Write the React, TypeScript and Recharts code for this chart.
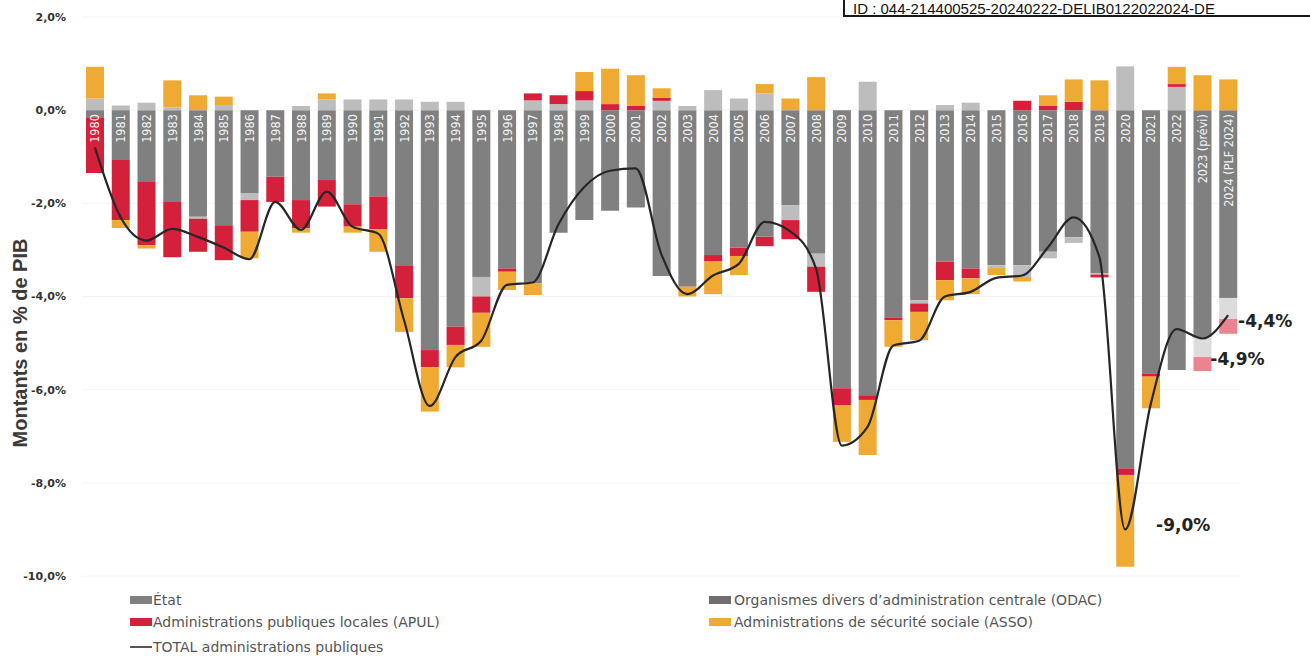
import React from "react";
import {
  ComposedChart,
  Bar,
  Line,
  XAxis,
  YAxis,
  CartesianGrid,
  Cell,
  LabelList,
} from "recharts";

// Soldes des administrations publiques, en % du PIB
const years = [
  "1980", "1981", "1982", "1983", "1984", "1985", "1986", "1987", "1988", "1989",
  "1990", "1991", "1992", "1993", "1994", "1995", "1996", "1997", "1998", "1999",
  "2000", "2001", "2002", "2003", "2004", "2005", "2006", "2007", "2008", "2009",
  "2010", "2011", "2012", "2013", "2014", "2015", "2016", "2017", "2018", "2019",
  "2020", "2021", "2022", "2023 (prévi)", "2024 (PLF 2024)",
];

const etat = [
  -0.15, -1.07, -1.54, -1.97, -2.29, -2.47, -1.79, -1.43, -1.93, -1.5,
  -2.02, -1.85, -3.33, -5.15, -4.65, -3.58, -3.4, -3.72, -2.63, -2.36,
  -2.16, -2.09, -3.56, -3.79, -3.11, -2.95, -2.72, -2.04, -3.08, -5.97,
  -6.12, -4.45, -4.08, -3.25, -3.4, -3.33, -3.33, -3.04, -2.73, -3.5,
  -7.69, -5.65, -5.58, -4.87, -4.03,
];

const odac = [
  0.25, 0.1, 0.16, 0.06, -0.04, 0.11, -0.14, 0, 0.09, 0.23,
  0.23, 0.23, 0.23, 0.18, 0.18, -0.42, 0, 0.21, 0.13, 0.21,
  0, 0, 0.2, 0.09, 0.43, 0.25, 0.36, -0.32, -0.28, 0,
  0.61, 0, -0.07, 0.11, 0.16, -0.06, -0.25, -0.14, -0.12, -0.03,
  0.94, 0, 0.5, -0.43, -0.45,
];

const apul = [
  -1.2, -1.29, -1.36, -1.19, -0.71, -0.75, -0.68, -0.54, -0.61, -0.57,
  -0.48, -0.71, -0.71, -0.37, -0.39, -0.35, -0.07, 0.15, 0.19, 0.2,
  0.13, 0.09, 0.07, 0, -0.14, -0.18, -0.2, -0.41, -0.54, -0.36,
  -0.1, -0.06, -0.18, -0.4, -0.21, 0, 0.2, 0.09, 0.18, -0.06,
  -0.14, -0.07, 0.06, -0.3, -0.32,
];

const asso = [
  0.68, -0.17, -0.07, 0.58, 0.32, 0.18, -0.57, 0, -0.09, 0.13,
  -0.13, -0.48, -0.72, -0.95, -0.48, -0.73, -0.39, -0.25, 0, 0.41,
  0.76, 0.66, 0.2, -0.21, -0.7, -0.41, 0.2, 0.25, 0.71, -0.79,
  -1.18, -0.57, -0.61, -0.43, -0.34, -0.15, -0.1, 0.23, 0.48, 0.64,
  -1.97, -0.68, 0.37, 0.75, 0.66,
];

const total = [
  -0.8, -2.3, -2.8, -2.55, -2.72, -2.95, -3.2, -1.97, -2.57, -1.75,
  -2.5, -2.65, -4.5, -6.35, -5.3, -4.95, -3.75, -3.7, -2.45, -1.65,
  -1.3, -1.25, -3.1, -3.95, -3.55, -3.3, -2.4, -2.6, -3.4, -7.2,
  -6.8, -5.05, -4.95, -4.0, -3.9, -3.6, -3.55, -2.95, -2.3, -3.15,
  -9.0, -6.3, -4.7, -4.9, -4.4,
];

const forecastYears = ["2023 (prévi)", "2024 (PLF 2024)"];
const calledOut = ["2020", "2023 (prévi)", "2024 (PLF 2024)"];
const yTicks = [-10, -8, -6, -4, -2, 0, 2];

const data = years.map((year, i) => ({
  year,
  etat: etat[i],
  odac: odac[i],
  apul: apul[i],
  asso: asso[i],
  total: total[i],
}));

const C = {
  etat: "#808080",
  odac: "#bdbdbd",
  odacPrev: "#dcdcdc",
  apul: "#d4203b",
  apulPrev: "#ea8590",
  asso: "#eeaa33",
  line: "#262626",
};

const pct = (v: number) => `${v.toFixed(1).replace(".", ",")}%`;

// label offsets for the annotated totals (relative to the line point)
const calloutOffset: Record<string, [number, number]> = {
  "2020": [31, 2],
  "2023 (prévi)": [8, 27],
  "2024 (PLF 2024)": [10, 12],
};

const YearTag = (props: any) => {
  const { x, y, width, height, value } = props;
  const top = Math.min(y, y + height);
  const px = x + width / 2 + 4.5;
  const py = top + 4;
  return (
    <text
      x={px}
      y={py}
      transform={`rotate(-90 ${px} ${py})`}
      textAnchor="end"
      fontSize={12.5}
      fontFamily="'DejaVu Sans Condensed', 'Liberation Sans Narrow', sans-serif"
      fill="#f4f4f4"
    >
      {value}
    </text>
  );
};

const TotalCallout = (props: any) => {
  const { x, y, value, index } = props;
  const year = years[index];
  if (!calledOut.includes(year)) return null;
  const [dx, dy] = calloutOffset[year];
  return (
    <text
      x={x + dx}
      y={y + dy}
      fontSize={17}
      fontWeight={700}
      fontFamily="'DejaVu Sans', sans-serif"
      fill="#222"
    >
      {pct(value)}
    </text>
  );
};

const AxisTitle = () => (
  <text
    x={27}
    y={343}
    transform="rotate(-90 27 343)"
    textAnchor="middle"
    fontSize={20}
    fontWeight={700}
    fontFamily="'Liberation Sans', Arial, sans-serif"
    fill="#3a3a3a"
  >
    Montants en % de PIB
  </text>
);

const legendText: React.CSSProperties = {
  position: "absolute",
  fontSize: 14,
  color: "#555",
  fontFamily: "'DejaVu Sans', sans-serif",
  whiteSpace: "nowrap",
  lineHeight: "16px",
};

const Swatch = ({ left, top, color }: { left: number; top: number; color: string }) => (
  <div style={{ position: "absolute", left, top, width: 22, height: 8, background: color }} />
);

export default function App() {
  return (
    <div
      style={{
        position: "absolute",
        left: 0,
        top: 0,
        width: 1310,
        height: 659,
        background: "#fff",
        overflow: "hidden",
        fontFamily: "'DejaVu Sans', sans-serif",
      }}
    >
      <ComposedChart
        width={1310}
        height={590}
        data={data}
        stackOffset="sign"
        margin={{ top: 17, right: 69, left: 8, bottom: 14 }}
      >
        <CartesianGrid vertical={false} stroke="#f4f4f4" />
        <XAxis dataKey="year" hide />
        <YAxis
          domain={[-10, 2]}
          ticks={yTicks}
          width={74}
          axisLine={false}
          tickLine={false}
          tickMargin={10}
          tickFormatter={pct}
          tick={{ fontSize: 11, fontWeight: 700, fill: "#333", fontFamily: "'DejaVu Sans', sans-serif" }}
          label={<AxisTitle />}
        />
        <Bar dataKey="etat" stackId="s" fill={C.etat} barSize={18} isAnimationActive={false}>
          <LabelList dataKey="year" content={<YearTag />} />
        </Bar>
        <Bar dataKey="odac" stackId="s" fill={C.odac} barSize={18} isAnimationActive={false}>
          {data.map((d) => (
            <Cell key={d.year} fill={forecastYears.includes(d.year) ? C.odacPrev : C.odac} />
          ))}
        </Bar>
        <Bar dataKey="apul" stackId="s" fill={C.apul} barSize={18} isAnimationActive={false}>
          {data.map((d) => (
            <Cell key={d.year} fill={forecastYears.includes(d.year) ? C.apulPrev : C.apul} />
          ))}
        </Bar>
        <Bar dataKey="asso" stackId="s" fill={C.asso} barSize={18} isAnimationActive={false} />
        <Line
          type="monotone"
          dataKey="total"
          stroke={C.line}
          strokeWidth={2.2}
          dot={false}
          activeDot={false}
          isAnimationActive={false}
        >
          <LabelList dataKey="total" content={<TotalCallout />} />
        </Line>
      </ComposedChart>

      {/* legend */}
      <Swatch left={130} top={596} color={C.etat} />
      <div style={{ ...legendText, left: 153, top: 592 }}>État</div>
      <Swatch left={130} top={618} color={C.apul} />
      <div style={{ ...legendText, left: 153, top: 614 }}>Administrations publiques locales (APUL)</div>
      <div style={{ position: "absolute", left: 130, top: 646, width: 22, height: 2, background: "#555" }} />
      <div style={{ ...legendText, left: 153, top: 639 }}>TOTAL administrations publiques</div>
      <Swatch left={709} top={596} color="#6f6f6f" />
      <div style={{ ...legendText, left: 734, top: 592 }}>Organismes divers d’administration centrale  (ODAC)</div>
      <Swatch left={709} top={618} color={C.asso} />
      <div style={{ ...legendText, left: 734, top: 614 }}>Administrations de sécurité sociale (ASSO)</div>

      {/* registration stamp */}
      <div
        style={{
          position: "absolute",
          left: 843,
          top: -4,
          width: 500,
          height: 21,
          border: "2px solid #1a1a1a",
          background: "#fff",
          boxSizing: "border-box",
          fontFamily: "'Liberation Sans', Arial, sans-serif",
          fontSize: 15,
          lineHeight: "15px",
          paddingLeft: 8,
          paddingTop: 3,
          color: "#111",
          whiteSpace: "nowrap",
        }}
      >
        ID : 044-214400525-20240222-DELIB0122022024-DE
      </div>
    </div>
  );
}
